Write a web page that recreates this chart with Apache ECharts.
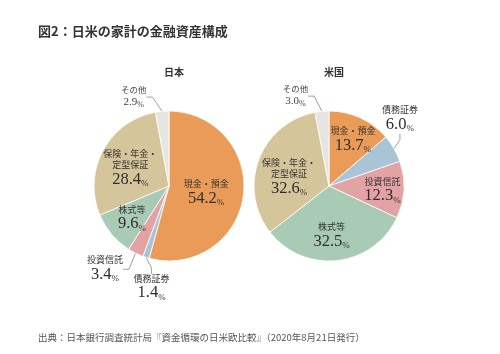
<!DOCTYPE html>
<html><head><meta charset="utf-8">
<script src="https://cdn.jsdelivr.net/npm/echarts@6/dist/echarts.min.js"></script>
<style>html,body{margin:0;padding:0;background:#fff}#c{width:500px;height:354px}</style>
</head><body><div id="c"></div>
<script>
// ---- data ----
const categories = ['現金・預金', '債務証券', '投資信託', '株式等', '保険・年金・\n定型保証', 'その他'];
const japanValues = [54.2, 1.4, 3.4, 9.6, 28.4, 2.9];
const usValues = [13.7, 6.0, 12.3, 32.5, 32.6, 3.0];
const pieTitles = ['日本', '米国'];
const chartTitle = '図2：日米の家計の金融資産構成';
const sourceText = '出典：日本銀行調査統計局『資金循環の日米欧比較』（2020年8月21日発行）';

// ---- styling / placement (not data) ----
const colors = ['#E99B57', '#A8C5D6', '#E3A3A5', '#A9CAB5', '#D5C59A', '#E7E5E2'];
const outsideFlags = [
  [false, true, true, false, false, true],
  [false, true, false, false, false, true]
];
const labelShift = [
  [[-3, 1], [37, 22], [2, 8], [-6, 6], [-3, 1], [-4, -8]],
  [[7, -10], [-30, -26], [13, 2], [-2, 9], [-2, 5], [-2, -9]]
];
const centers = [[169, 186], [329, 186]];
const RADIUS = 75;

const SERIF = '"Liberation Serif", "DejaVu Serif", serif';
const JP = '"Noto Sans CJK JP", sans-serif';
const rich = {
  n: { fontFamily: JP, fontSize: 9, color: '#333', lineHeight: 11, align: 'center' },
  v: { fontFamily: SERIF, fontSize: 16.5, color: '#2e2e2e', lineHeight: 18 },
  p: { fontFamily: SERIF, fontSize: 9, color: '#333', lineHeight: 13, verticalAlign: 'bottom' },
  sn: { fontFamily: JP, fontSize: 8.5, color: '#444', lineHeight: 12, align: 'center' },
  sv: { fontFamily: SERIF, fontSize: 11, color: '#444', lineHeight: 13 },
  sp: { fontFamily: SERIF, fontSize: 8, color: '#444', lineHeight: 10, verticalAlign: 'bottom' }
};

function makeSeries(si, values) {
  return {
    type: 'pie',
    center: centers[si],
    radius: RADIUS,
    startAngle: 90,
    clockwise: true,
    avoidLabelOverlap: false,
    emphasis: { disabled: true },
    itemStyle: { borderColor: '#fff', borderWidth: 0.8 },
    data: categories.map((c, i) => ({
      name: c,
      value: values[i],
      itemStyle: { color: colors[i] },
      label: { position: outsideFlags[si][i] ? 'outside' : 'inside' },
      labelLine: { show: outsideFlags[si][i] }
    })),
    label: {
      show: true,
      rich: rich,
      formatter: p => {
        const small = p.name === 'その他';
        return small
          ? '{sn|' + p.name + '}\n{sv|' + p.value.toFixed(1) + '}{sp|%}'
          : '{n|' + p.name + '}\n{v|' + p.value.toFixed(1) + '}{p|%}';
      }
    },
    labelLine: { length: 8, length2: 6, lineStyle: { color: '#888', width: 0.8 } },
    labelLayout: params => {
      const s = labelShift[params.seriesIndex][params.dataIndex];
      const r = params.labelRect;
      return {
        x: r.x + r.width / 2 + s[0],
        y: r.y + r.height / 2 + s[1],
        align: 'center',
        verticalAlign: 'middle'
      };
    }
  };
}

const chart = echarts.init(document.getElementById('c'), null, { renderer: 'canvas' });
chart.setOption({
  backgroundColor: '#fff',
  animation: false,
  title: [
    { text: chartTitle, left: 33, top: 20, textStyle: { fontFamily: JP, fontSize: 13, fontWeight: 'bold', color: '#333' } },
    { text: pieTitles[0], left: centers[0][0], top: 62, textAlign: 'center', textStyle: { fontFamily: JP, fontSize: 10, fontWeight: 'bold', color: '#333' } },
    { text: pieTitles[1], left: centers[1][0], top: 62, textAlign: 'center', textStyle: { fontFamily: JP, fontSize: 10, fontWeight: 'bold', color: '#333' } },
    { text: sourceText, left: 33, top: 328, textStyle: { fontFamily: JP, fontSize: 9.5, fontWeight: 'normal', color: '#555' } }
  ],
  series: [makeSeries(0, japanValues), makeSeries(1, usValues)]
});
</script>
</body></html>
